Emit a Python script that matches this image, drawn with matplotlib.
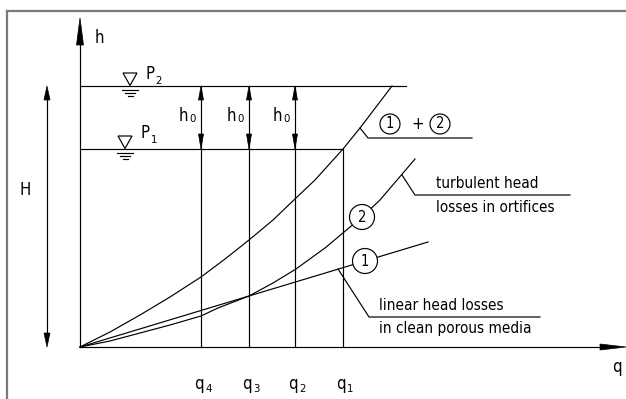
import matplotlib
matplotlib.use("Agg")
from matplotlib import pyplot as plt
from matplotlib.patches import Polygon, Circle

# flow rates q4, q3, q2, q1 (arbitrary units, 1 unit = 100 px)
q_marks = [1.21, 1.69, 2.15, 2.63]
q_names = ["4", "3", "2", "1"]
ho_marks = [1.21, 1.69, 2.15]

# water levels
p1_level = 1.98
p2_level = 2.61

# curve (1)+(2): total head loss
sum_q = [0.0, 0.30, 0.60, 0.90, 1.21, 1.45, 1.69, 1.93, 2.16, 2.35, 2.63, 2.80, 3.12]
sum_h = [0.0, 0.15, 0.32, 0.50, 0.70, 0.88, 1.07, 1.27, 1.49, 1.67, 1.98, 2.19, 2.61]

# curve (1): linear head losses
lin_q = [0.0, 3.48]
lin_h = [0.0, 1.05]

# curve (2): turbulent head losses
turb_q = [0.0, 0.30, 0.60, 0.90, 1.21, 1.38, 1.69, 1.93, 2.16, 2.45, 2.82, 3.00, 3.35]
turb_h = [0.0, 0.06, 0.14, 0.22, 0.31, 0.39, 0.51, 0.64, 0.78, 0.99, 1.30, 1.47, 1.88]

LW = 0.85
FONT = dict(family="DejaVu Sans", stretch="condensed", color="black")

fig = plt.figure(figsize=(6.26, 3.99), dpi=100)
ax = fig.add_axes([0, 0, 1, 1])
ax.set_xlim(-0.80, 5.46)
ax.set_ylim(-0.52, 3.47)
ax.axis("off")


def arrow_head(x, y, direction, length, half_width):
    dx, dy = direction
    bx, by = x - dx * length, y - dy * length
    pts = [(x, y), (bx - dy * half_width, by + dx * half_width), (bx + dy * half_width, by - dx * half_width)]
    ax.add_patch(Polygon(pts, closed=True, facecolor="black", edgecolor="black", lw=0.5, zorder=4))


def label(x, y, text, size=12, sub=None, sub_dx=0.09, sub_dy=-0.05, ha="center"):
    ax.text(x, y, text, fontsize=size, ha=ha, va="center", **FONT)
    if sub is not None:
        ax.text(x + sub_dx, y + sub_dy, sub, fontsize=size * 0.68, ha="center", va="center", **FONT)


def water_level(xc, level):
    tri = [(xc - 0.07, level + 0.13), (xc + 0.07, level + 0.13), (xc, level + 0.005)]
    ax.add_patch(Polygon(tri, closed=True, fill=False, edgecolor="black", lw=LW))
    for k, hw in enumerate([0.08, 0.05, 0.025]):
        yy = level - 0.035 - 0.03 * k
        ax.plot([xc - hw, xc + hw], [yy, yy], color="black", lw=LW)


def circled(x, y, text, r, size=10.5):
    ax.add_patch(Circle((x, y), r, facecolor="white", edgecolor="black", lw=LW, zorder=5))
    ax.text(x, y, text, fontsize=size, ha="center", va="center", zorder=6, **FONT)


# outer frame (only top and left visible)
ax.plot([-0.73, -0.73], [-0.6, 3.36], color="#7a7a7a", lw=1.6)
ax.plot([-0.73, 5.6], [3.36, 3.36], color="#7a7a7a", lw=1.6)

# axes
ax.plot([0, 0], [0, 3.10], color="black", lw=LW)
arrow_head(0, 3.29, (0, 1), 0.27, 0.035)
ax.plot([0, 5.30], [0, 0], color="black", lw=LW)
arrow_head(5.46, 0, (1, 0), 0.26, 0.03)
label(0.19, 3.09, "h")
label(5.37, -0.20, "q")

# water levels
ax.plot([0, 3.26], [p2_level, p2_level], color="black", lw=LW)
ax.plot([0, q_marks[-1]], [p1_level, p1_level], color="black", lw=LW)
water_level(0.50, p2_level)
water_level(0.45, p1_level)
label(0.70, 2.73, "P", sub="2", sub_dx=0.09, sub_dy=-0.07)
label(0.65, 2.14, "P", sub="1", sub_dx=0.09, sub_dy=-0.07)

# H arrow
ax.plot([-0.33, -0.33], [0.1, p2_level - 0.1], color="black", lw=LW)
arrow_head(-0.33, p2_level, (0, 1), 0.14, 0.03)
arrow_head(-0.33, 0, (0, -1), 0.14, 0.03)
label(-0.55, 1.57, "H")

# vertical q lines
for qv in q_marks[:3]:
    ax.plot([qv, qv], [0, p2_level], color="black", lw=LW)
ax.plot([q_marks[3], q_marks[3]], [0, p1_level], color="black", lw=LW)
for qv, nm in zip(q_marks, q_names):
    label(qv - 0.02, -0.37, "q", sub=nm, sub_dx=0.095, sub_dy=-0.05)

# h0 double arrows
for qv in ho_marks:
    arrow_head(qv, p2_level, (0, 1), 0.14, 0.025)
    arrow_head(qv, p1_level, (0, -1), 0.15, 0.025)
    label(qv - 0.18, 2.31, "h", sub="0", sub_dx=0.095, sub_dy=-0.03)

# curves
ax.plot(sum_q, sum_h, color="black", lw=LW)
ax.plot(lin_q, lin_h, color="black", lw=LW)
ax.plot(turb_q, turb_h, color="black", lw=LW)
circled(2.82, 1.30, "2", 0.125)
circled(2.85, 0.86, "1", 0.125)

# leaders and notes
ax.plot([2.80, 2.88, 3.92], [2.19, 2.09, 2.09], color="black", lw=LW)
circled(3.10, 2.23, "1", 0.10)
ax.text(3.38, 2.23, "+", fontsize=12, ha="center", va="center", **FONT)
circled(3.60, 2.23, "2", 0.10)

ax.plot([3.22, 3.35, 4.90], [1.72, 1.52, 1.52], color="black", lw=LW)
ax.text(3.56, 1.64, "turbulent head", fontsize=11, ha="left", va="center", **FONT)
ax.text(3.56, 1.40, "losses in ortifices", fontsize=11, ha="left", va="center", **FONT)

ax.plot([2.58, 2.89, 4.60], [0.78, 0.30, 0.30], color="black", lw=LW)
ax.text(2.99, 0.41, "linear head losses", fontsize=11, ha="left", va="center", **FONT)
ax.text(2.99, 0.19, "in clean porous media", fontsize=11, ha="left", va="center", **FONT)

fig.savefig("out.png", dpi=100, facecolor="white")
